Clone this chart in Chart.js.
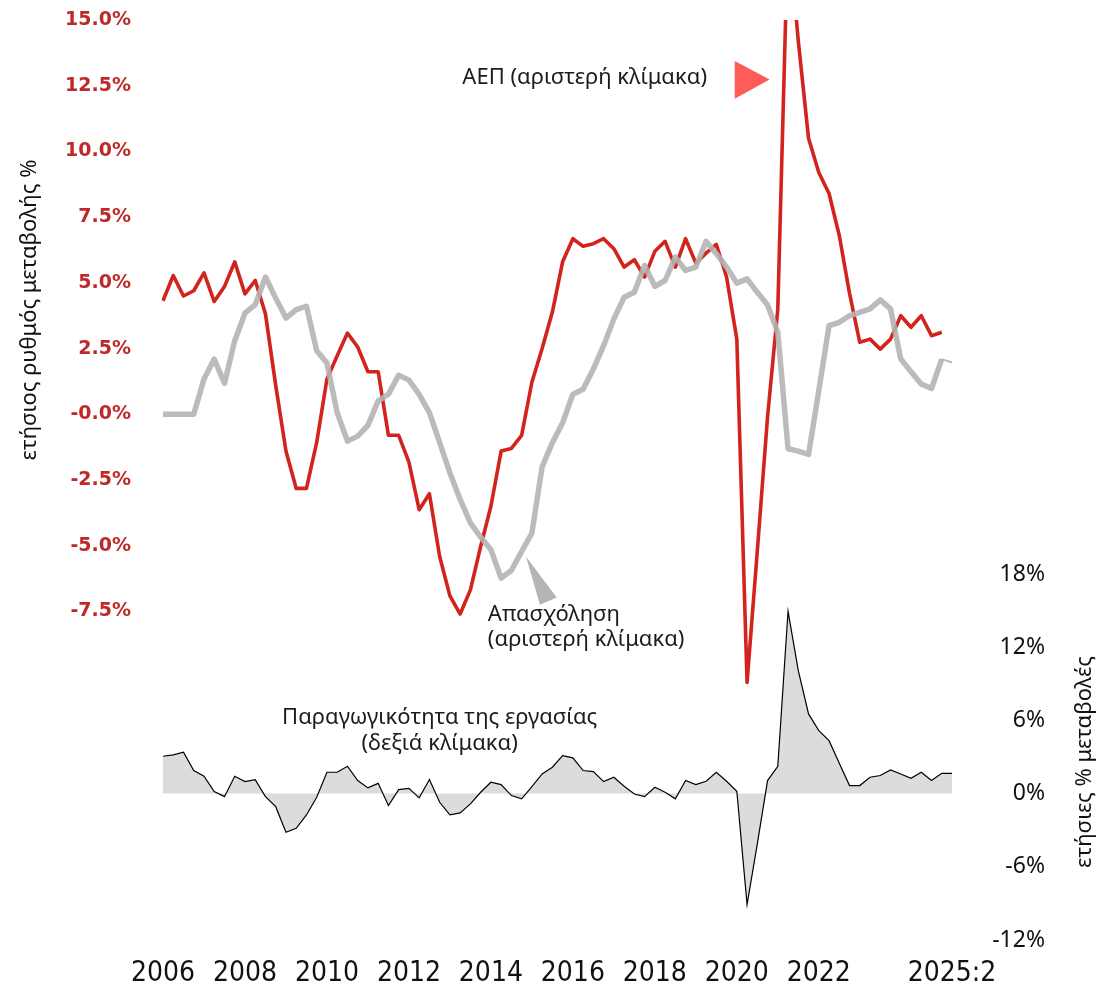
<!DOCTYPE html>
<html>
<head>
<meta charset="utf-8">
<script src="https://cdn.jsdelivr.net/npm/chart.js@4.4.1/dist/chart.umd.min.js"></script>
<style>
  html, body { margin: 0; padding: 0; background: #fff; }
</style>
</head>
<body>
<canvas id="chart" width="1102" height="989"></canvas>
<script>
// quarters 2006:1 .. 2025:2
const quarters = []
for (let year = 2006; year <= 2025; year++) {
    for (let q = 1; q <= 4; q++) {
        if (year === 2025 && q > 2) break
        quarters.push(`${year}:${q}`)
    }
}

// ΑΕΠ, ετήσια % μεταβολή (αριστερή κλίμακα)
const gdp = [
    4.32, 5.28, 4.5, 4.7, 5.38, 4.29, 4.86, 5.8, 4.58, 5.09,
    3.82, 1.1, -1.4, -2.82, -2.82, -1.07, 1.34, 2.23, 3.09, 2.56,
    1.62, 1.62, -0.8, -0.8, -1.82, -3.63, -3.02, -5.41, -6.91, -7.6,
    -6.68, -5.03, -3.5, -1.4, -1.3, -0.8, 1.22, 2.5, 3.89, 5.8,
    6.68, 6.39, 6.49, 6.68, 6.3, 5.6, 5.88, 5.22, 6.2, 6.58,
    5.6, 6.68, 5.75, 6.13, 6.46, 5.22, 2.86, -10.2, -5.2, -0.1,
    4.0, 18.5, 14.2, 10.5, 9.2, 8.4, 6.8, 4.6, 2.74, 2.86,
    2.48, 2.86, 3.75, 3.31, 3.75, 2.99, 3.12, null
]

// Απασχόληση (αριστερή κλίμακα)
const employment = [
    0, 0, 0, 0, 1.34, 2.1, 1.18, 2.8, 3.85, 4.17,
    5.22, 4.42, 3.66, 3.98, 4.11, 2.42, 1.95, 0.06, -1.02, -0.83,
    -0.42, 0.51, 0.76, 1.49, 1.3, 0.76, 0.06, -1.08, -2.23, -3.24,
    -4.13, -4.67, -5.15, -6.23, -5.94, -5.22, -4.52, -2.0, -1.08, -0.32,
    0.76, 0.95, 1.72, 2.61, 3.63, 4.45, 4.64, 5.66, 4.87, 5.09,
    5.98, 5.47, 5.6, 6.58, 6.11, 5.6, 4.99, 5.15, 4.64, 4.16,
    3.12, -1.31, -1.4, -1.53, 0.9, 3.37, 3.5, 3.75, 3.88, 4.01,
    4.35, 4.01, 2.1, 1.62, 1.15, 0.98, 2.1, 1.97
]

// Παραγωγικότητα της εργασίας (δεξιά κλίμακα)
const productivity = [
    3.06, 3.17, 3.39, 1.89, 1.42, 0.16, -0.25, 1.42, 0.98, 1.15,
    -0.25, -1.07, -3.17, -2.84, -1.75, -0.3, 1.75, 1.75, 2.24, 1.07,
    0.47, 0.84, -0.98, 0.33, 0.43, -0.35, 1.15, -0.71, -1.75, -1.58,
    -0.84, 0.11, 0.93, 0.74, -0.16, -0.43, 0.57, 1.61, 2.16, 3.11,
    2.93, 1.89, 1.8, 0.98, 1.34, 0.6, -0.03, -0.25, 0.52, 0.11,
    -0.43, 1.07, 0.74, 1.01, 1.75, 1.01, 0.19, -9.1, -4.12, 1.07,
    2.24, 14.94, 10.08, 6.53, 5.16, 4.34, 2.48, 0.66, 0.66, 1.34,
    1.48, 1.94, 1.61, 1.25, 1.75, 1.07, 1.66, 1.66
]

const leftTicks = [-7.5, -5, -2.5, 0, 2.5, 5, 7.5, 10, 12.5, 15]
const leftTickLabels = ['-7.5%', '-5.0%', '-2.5%', '-0.0%', '2.5%', '5.0%', '7.5%', '10.0%', '12.5%', '15.0%']
const rightTicks = [-12, -6, 0, 6, 12, 18]
const rightTickLabels = ['-12%', '-6%', '0%', '6%', '12%', '18%']
const xTickLabels = {
    '2006:1': '2006', '2008:1': '2008', '2010:1': '2010', '2012:1': '2012', '2014:1': '2014',
    '2016:1': '2016', '2018:1': '2018', '2020:1': '2020', '2022:1': '2022', '2025:2': '2025:2'
}

const textFont = '"Noto Sans", sans-serif'

// labels, arrow heads and axis titles
const annotations = {
    id: 'annotations',
    afterDatasetsDraw(chart) {
        const { ctx, scales: { x, y, y2 } } = chart
        const px = i => x.getPixelForValue(i)

        ctx.save()
        ctx.fillStyle = '#1c1c1c'
        ctx.font = `22px ${textFont}`
        ctx.textBaseline = 'middle'

        ctx.textAlign = 'right'
        ctx.fillText('ΑΕΠ (αριστερή κλίμακα)', px(53.1), y.getPixelForValue(12.8))

        ctx.textAlign = 'left'
        ctx.fillText('Απασχόληση', px(31.7), y.getPixelForValue(-7.63))
        ctx.fillText('(αριστερή κλίμακα)', px(31.7), y.getPixelForValue(-8.58))

        ctx.textAlign = 'center'
        ctx.fillText('Παραγωγικότητα της εργασίας', px(27.0), y2.getPixelForValue(6.23))
        ctx.fillText('(δεξιά κλίμακα)', px(27.0), y2.getPixelForValue(4.1))

        // red arrow head
        ctx.fillStyle = '#fd5c57'
        ctx.beginPath()
        ctx.moveTo(px(55.8), y.getPixelForValue(13.44))
        ctx.lineTo(px(55.8), y.getPixelForValue(12.0))
        ctx.lineTo(px(59.2), y.getPixelForValue(12.74))
        ctx.closePath()
        ctx.fill()

        // grey arrow head
        ctx.fillStyle = '#b4b4b4'
        ctx.beginPath()
        ctx.moveTo(px(35.42), y.getPixelForValue(-5.41))
        ctx.lineTo(px(36.79), y.getPixelForValue(-7.25))
        ctx.lineTo(px(38.42), y.getPixelForValue(-6.97))
        ctx.closePath()
        ctx.fill()

        // axis titles, both read bottom to top
        ctx.fillStyle = '#111'
        ctx.font = `22px ${textFont}`
        ctx.textAlign = 'center'
        ctx.save()
        ctx.translate(30, 310)
        ctx.rotate(-Math.PI / 2)
        ctx.fillText('ετήσιος ρυθμός μεταβολής %', 0, 0)
        ctx.restore()
        ctx.save()
        ctx.translate(1085, 762)
        ctx.rotate(-Math.PI / 2)
        ctx.fillText('ετήσιες % μεταβολές', 0, 0)
        ctx.restore()

        ctx.restore()
    }
}

const canvas = document.getElementById('chart')

const chart = new Chart(canvas, {
    type: 'line',
    data: {
        labels: quarters,
        datasets: [
            {
                label: 'Απασχόληση',
                data: employment,
                yAxisID: 'y',
                borderColor: 'rgba(180,180,180,0.9)',
                borderWidth: 5.5,
                borderJoinStyle: 'round',
                pointRadius: 0,
                order: 1,
                // the last quarter is drawn as a thin stub
                segment: {
                    borderWidth: ctx => ctx.p1DataIndex === employment.length - 1 ? 2 : undefined,
                },
            },
            {
                label: 'ΑΕΠ',
                data: gdp,
                yAxisID: 'y',
                borderColor: '#d2231d',
                borderWidth: 3.6,
                borderJoinStyle: 'round',
                pointRadius: 0,
                order: 2,
            },
            {
                label: 'Παραγωγικότητα της εργασίας',
                data: productivity,
                yAxisID: 'y2',
                borderColor: '#000',
                borderWidth: 1.2,
                backgroundColor: '#dcdcdc',
                fill: 'origin',
                pointRadius: 0,
                order: 3,
            },
        ]
    },
    options: {
        responsive: false,
        animation: false,
        devicePixelRatio: 1,
        layout: {
            padding: { top: 20, right: 57, left: 0, bottom: 0 }
        },
        plugins: {
            legend: false,
            tooltip: false,
        },
        scales: {
            x: {
                offset: false,
                grid: { display: false, drawTicks: false },
                border: { display: false },
                ticks: {
                    autoSkip: false,
                    maxRotation: 0,
                    minRotation: 0,
                    padding: 17,
                    color: '#111',
                    font: { family: '"DejaVu Sans"', weight: 'condensed', size: 28 },
                    callback: (value, index) => xTickLabels[quarters[index]] || '',
                },
                afterFit: scale => { scale.height = 49 },
            },
            y: {
                position: 'left',
                min: -20,
                max: 15,
                // invisible tick marks give the gap between labels and plot
                grid: { display: false, drawTicks: true, tickLength: 32 },
                border: { display: false },
                afterBuildTicks: scale => { scale.ticks = leftTicks.map(v => ({ value: v })) },
                ticks: {
                    padding: 0,
                    color: '#be2a2a',
                    font: { family: '"DejaVu Sans", sans-serif', size: 19, weight: 'bold' },
                    callback: (value, index) => leftTickLabels[index],
                },
                afterFit: scale => { scale.width = 163 },
            },
            y2: {
                position: 'right',
                min: -12,
                max: 63.41,
                grid: { display: false, drawTicks: false },
                border: { display: false },
                afterBuildTicks: scale => { scale.ticks = rightTicks.map(v => ({ value: v })) },
                ticks: {
                    crossAlign: 'far',
                    padding: 0,
                    color: '#111',
                    font: { family: textFont, size: 23 },
                    callback: (value, index) => rightTickLabels[index],
                },
                afterFit: scale => { scale.width = 93 },
            },
        }
    },
    plugins: [annotations]
});
</script>
</body>
</html>
